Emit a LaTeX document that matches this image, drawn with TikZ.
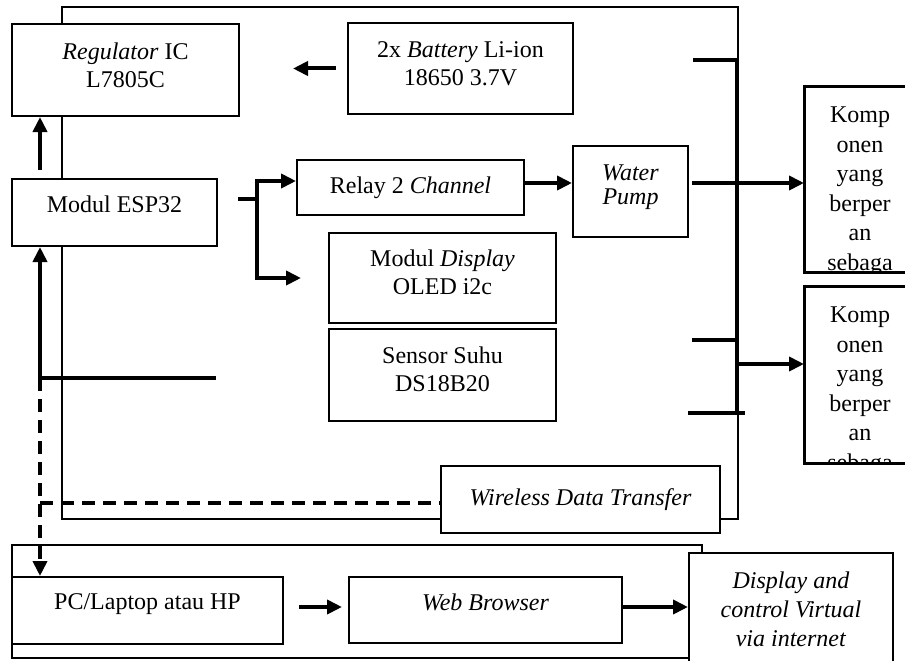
\documentclass[tikz,border=0pt]{standalone}
\usepackage{fontspec}
\setmainfont{Liberation Serif}
\usepackage{tikz}
\usetikzlibrary{arrows.meta}
\tikzset{
	blok/.style={draw,line width=2pt,fill=white,inner sep=0pt,align=center,font=\fontsize{24}{28}\selectfont},
	kabel/.style={line width=4pt},
	panah/.style={line width=4pt,-{Triangle[length=15pt,width=14pt]}},
	putus/.style={line width=4pt,dash pattern=on 13pt off 8pt},
	isi/.style={anchor=north,align=center,inner sep=0pt,font=\fontsize{24}{29.5}\selectfont}
}
\begin{document}
\begin{tikzpicture}[x=1pt,y=-1pt]
	\useasboundingbox (0,0) rectangle (905,661);
	\draw[line width=2pt] (62,7) rectangle (738,519);\draw[line width=2pt] (12,545) rectangle (702,658);
	\node[blok,minimum width=227pt,minimum height=92pt,text depth=9pt] (reg) at (125.5,70) {\textit{Regulator} IC\\L7805C};
	\node[blok,minimum width=225pt,minimum height=91pt,text depth=9pt] (bat) at (460.5,68.5) {2x \textit{Battery} Li-ion\\18650 3.7V};
	\node[blok,minimum width=205pt,minimum height=67pt,text depth=17pt] (esp) at (114.5,212.5) {Modul ESP32};
	\node[blok,minimum width=227pt,minimum height=55pt] (relay) at (410.5,187.5) {Relay 2 \textit{Channel}};
	\node[blok,minimum width=115pt,minimum height=91pt,text depth=13pt,font=\fontsize{24}{24}\selectfont] (pump) at (630.5,191.5) {\textit{Water}\\\textit{Pump}};
	\node[blok,minimum width=227pt,minimum height=90pt,text depth=11pt] (oled) at (442.5,278) {Modul \textit{Display}\\OLED i2c};
	\node[blok,minimum width=227pt,minimum height=92pt,text depth=12pt] (sensor) at (442.5,375) {Sensor Suhu\\DS18B20};
	\node[blok,minimum width=279pt,minimum height=67pt] (wifi) at (580.5,499.5) {\textit{Wireless Data Transfer}};
	\node[blok,minimum width=271pt,minimum height=67pt,text depth=17pt] (pc) at (147.5,610.5) {PC/Laptop atau HP};
	\node[blok,minimum width=273pt,minimum height=66pt,text depth=16pt] (web) at (485.5,610) {\textit{Web Browser}};
	\node[blok,minimum width=204pt,minimum height=112pt,font=\fontsize{24}{29}\selectfont] (disp) at (791,609) {\textit{Display and}\\\textit{control Virtual}\\\textit{via internet}};
	\node[blok,minimum width=110pt,minimum height=185pt] (komp1) at (860,179.5) {};
	\node[blok,minimum width=110pt,minimum height=176pt] (komp2) at (860,375) {};
	\begin{scope}
		\clip (komp1.north west) rectangle (komp1.south east);
		\node[isi] (teks1) at ([yshift=-21pt]komp1.north) {Komp\\onen\\yang\\berper\\an\\sebaga};
	\end{scope}
	\begin{scope}
		\clip (komp2.north west) rectangle (komp2.south east);
		\node[isi] (teks2) at ([yshift=-21pt]komp2.north) {Komp\\onen\\yang\\berper\\an\\sebaga};
	\end{scope}
	\draw[line width=2pt] (komp1.north west) rectangle (komp1.south east);\draw[line width=2pt] (komp2.north west) rectangle (komp2.south east);
	\draw[panah,shorten <=11pt,shorten >=53pt] (bat.west) -- (bat.west -| reg.east);
	\coordinate (naik) at (40,170);\draw[panah] (naik) -- (naik |- reg.south);
	\coordinate (cabang) at (257,199);\draw[kabel,shorten <=20pt] (cabang -| esp.east) -- (cabang);
	\draw[panah] (cabang) |- ([yshift=6.5pt]relay.west);\draw[panah,shorten >=27pt] (cabang) |- (oled.west);
	\draw[panah] ([yshift=4.5pt]relay.east) -- ([yshift=4.5pt]relay.east -| pump.west);
	\draw[panah,shorten <=3pt] ([yshift=-3.5pt]komp1.west -| pump.east) -- ([yshift=-3.5pt]komp1.west);
	\coordinate (bt) at (737,60);\coordinate (bm) at (737,340);\coordinate (bb) at (737,413);
	\draw[kabel] (bt) -- (bb);\draw[kabel] (bt) -- ++(-44,0);\draw[kabel] (bm) -- ++(-45,0);\draw[kabel] ([xshift=8pt]bb) -- ++(-57,0);
	\draw[panah] ([yshift=11pt]komp2.west -| bt) -- ([yshift=11pt]komp2.west);
	\coordinate (simpul) at (40,378);\draw[kabel] (simpul) -- ++(176,0);
	\draw[panah] (simpul) -- (simpul |- esp.south);
	\draw[putus,-{Triangle[length=15pt,width=14pt]}] (simpul) -- (simpul |- pc.north);
	\coordinate (masuk) at ([yshift=-3.5pt]wifi.west);\draw[putus] (simpul |- masuk) -- (masuk);
	\draw[panah,shorten <=15pt,shorten >=6pt] ([yshift=3.5pt]pc.east) -- ([yshift=3.5pt]pc.east -| web.west);
	\draw[panah] ([yshift=3pt]web.east) -- ([yshift=3pt]web.east -| disp.west);
\end{tikzpicture}
\end{document}
